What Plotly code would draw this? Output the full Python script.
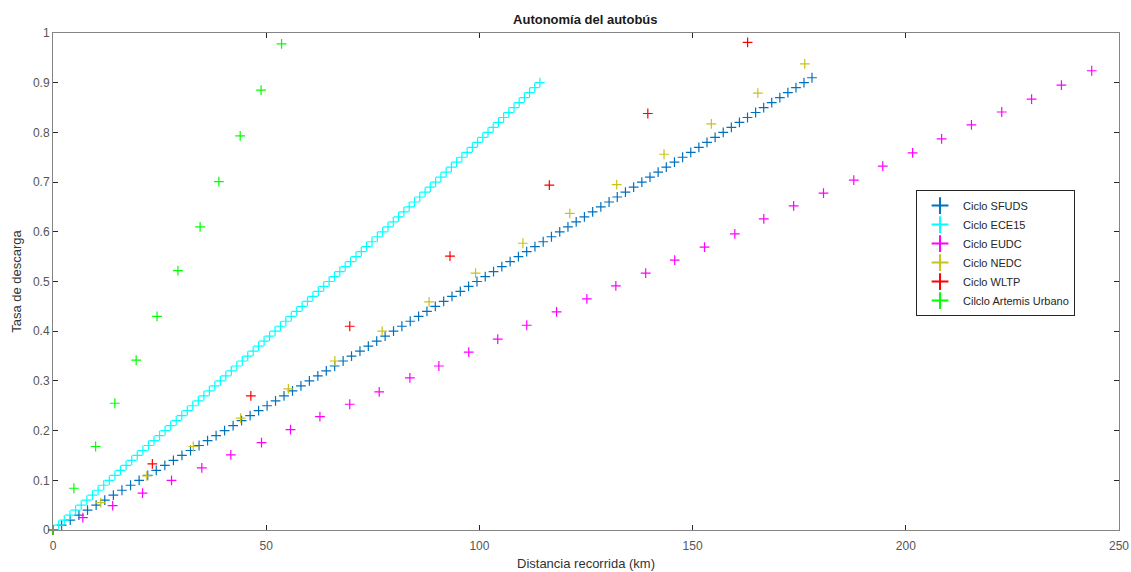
import plotly.graph_objects as go

# ---------------- data ----------------
sfuds_x = [0, 2.03, 4.05, 6.08, 8.10, 10.12, 12.14, 14.16, 16.17, 18.19,
           20.20, 22.21, 24.22, 26.23, 28.24, 30.24, 32.25, 34.25, 36.25, 38.25,
           40.24, 42.24, 44.23, 46.23, 48.22, 50.21, 52.19, 54.18, 56.17, 58.15,
           60.13, 62.11, 64.09, 66.06, 68.04, 70.01, 71.99, 73.95, 75.92, 77.89,
           79.86, 81.82, 83.78, 85.74, 87.70, 89.66, 91.62, 93.57, 95.52, 97.47,
           99.43, 101.37, 103.32, 105.26, 107.21, 109.15, 111.09, 113.03, 114.96, 116.90,
           118.84, 120.77, 122.70, 124.63, 126.56, 128.48, 130.41, 132.33, 134.25, 136.17,
           138.09, 140.01, 141.92, 143.83, 145.74, 147.66, 149.57, 151.47, 153.38, 155.28,
           157.18, 159.09, 160.98, 162.88, 164.78, 166.67, 168.56, 170.46, 172.35, 174.24,
           176.12, 178.00]
sfuds_y = [0.00, 0.01, 0.02, 0.03, 0.04, 0.05, 0.06, 0.07, 0.08, 0.09,
           0.10, 0.11, 0.12, 0.13, 0.14, 0.15, 0.16, 0.17, 0.18, 0.19,
           0.20, 0.21, 0.22, 0.23, 0.24, 0.25, 0.26, 0.27, 0.28, 0.29,
           0.30, 0.31, 0.32, 0.33, 0.34, 0.35, 0.36, 0.37, 0.38, 0.39,
           0.40, 0.41, 0.42, 0.43, 0.44, 0.45, 0.46, 0.47, 0.48, 0.49,
           0.50, 0.51, 0.52, 0.53, 0.54, 0.55, 0.56, 0.57, 0.58, 0.59,
           0.60, 0.61, 0.62, 0.63, 0.64, 0.65, 0.66, 0.67, 0.68, 0.69,
           0.70, 0.71, 0.72, 0.73, 0.74, 0.75, 0.76, 0.77, 0.78, 0.79,
           0.80, 0.81, 0.82, 0.83, 0.84, 0.85, 0.86, 0.87, 0.88, 0.89,
           0.90, 0.91]

ece15_x = [0, 1.33, 2.65, 3.98, 5.30, 6.62, 7.94, 9.26, 10.58, 11.90,
           13.21, 14.53, 15.84, 17.15, 18.46, 19.77, 21.08, 22.39, 23.69, 24.99,
           26.30, 27.60, 28.90, 30.20, 31.49, 32.79, 34.08, 35.38, 36.67, 37.96,
           39.25, 40.53, 41.82, 43.11, 44.39, 45.67, 46.95, 48.23, 49.51, 50.79,
           52.07, 53.34, 54.61, 55.89, 57.16, 58.43, 59.69, 60.96, 62.23, 63.49,
           64.75, 66.01, 67.27, 68.53, 69.79, 71.05, 72.30, 73.55, 74.81, 76.06,
           77.31, 78.56, 79.80, 81.05, 82.29, 83.54, 84.78, 86.02, 87.26, 88.49,
           89.73, 90.97, 92.20, 93.43, 94.66, 95.89, 97.12, 98.35, 99.57, 100.80,
           102.02, 103.24, 104.46, 105.68, 106.90, 108.12, 109.33, 110.55, 111.76, 112.97,
           114.18]
ece15_y = [0.00, 0.01, 0.02, 0.03, 0.04, 0.05, 0.06, 0.07, 0.08, 0.09,
           0.10, 0.11, 0.12, 0.13, 0.14, 0.15, 0.16, 0.17, 0.18, 0.19,
           0.20, 0.21, 0.22, 0.23, 0.24, 0.25, 0.26, 0.27, 0.28, 0.29,
           0.30, 0.31, 0.32, 0.33, 0.34, 0.35, 0.36, 0.37, 0.38, 0.39,
           0.40, 0.41, 0.42, 0.43, 0.44, 0.45, 0.46, 0.47, 0.48, 0.49,
           0.50, 0.51, 0.52, 0.53, 0.54, 0.55, 0.56, 0.57, 0.58, 0.59,
           0.60, 0.61, 0.62, 0.63, 0.64, 0.65, 0.66, 0.67, 0.68, 0.69,
           0.70, 0.71, 0.72, 0.73, 0.74, 0.75, 0.76, 0.77, 0.78, 0.79,
           0.80, 0.81, 0.82, 0.83, 0.84, 0.85, 0.86, 0.87, 0.88, 0.89,
           0.90]

eudc_x = [0, 7.0, 14.0, 21.0, 27.8, 34.9, 41.7, 48.9, 55.7, 62.6, 69.6, 76.5,
          83.7, 90.5, 97.5, 104.3, 111.1, 118.1, 125.2, 132.0, 139.0, 145.8,
          152.8, 159.9, 166.7, 173.7, 180.7, 187.8, 194.6, 201.6, 208.4, 215.4,
          222.5, 229.5, 236.5, 243.6]
eudc_y = [0, 0.025, 0.049, 0.074, 0.100, 0.125, 0.151, 0.176, 0.202, 0.228, 0.253, 0.278,
          0.306, 0.330, 0.358, 0.384, 0.412, 0.439, 0.465, 0.491, 0.517, 0.543,
          0.569, 0.596, 0.626, 0.652, 0.678, 0.704, 0.732, 0.759, 0.787, 0.815,
          0.841, 0.867, 0.895, 0.924]

nedc_x = [0, 11.2, 22.0, 32.9, 44.0, 55.2, 66.1, 77.2, 88.2, 99.1, 110.2,
          121.2, 132.2, 143.3, 154.4, 165.3, 176.3]
nedc_y = [0, 0.055, 0.109, 0.168, 0.225, 0.284, 0.340, 0.400, 0.459, 0.517, 0.577,
          0.637, 0.695, 0.756, 0.817, 0.879, 0.938]

wltp_x = [0, 23.3, 46.4, 69.6, 93.1, 116.4, 139.5, 162.9]
wltp_y = [0, 0.133, 0.270, 0.410, 0.551, 0.694, 0.838, 0.981]

artemis_x = [0, 4.9, 10.0, 14.5, 19.5, 24.4, 29.3, 34.5, 38.9, 43.9, 48.8, 53.6]
artemis_y = [0, 0.084, 0.168, 0.255, 0.342, 0.430, 0.522, 0.610, 0.701, 0.793, 0.885, 0.978]

series = [
    ("Ciclo SFUDS", sfuds_x, sfuds_y, "#0072BD"),
    ("Ciclo ECE15", ece15_x, ece15_y, "#00FFFF"),
    ("Ciclo EUDC", eudc_x, eudc_y, "#FF00FF"),
    ("Ciclo NEDC", nedc_x, nedc_y, "#C8C21E"),
    ("Ciclo WLTP", wltp_x, wltp_y, "#FF0000"),
    ("Cilclo Artemis Urbano", artemis_x, artemis_y, "#00FF00"),
]

x_ticks = [0, 50, 100, 150, 200, 250]
y_ticks = [0, 0.1, 0.2, 0.3, 0.4, 0.5, 0.6, 0.7, 0.8, 0.9, 1]

FONT = "Liberation Sans, Arial, sans-serif"

# ---------------- figure ----------------
fig = go.Figure()
for name, xs, ys, col in series:
    fig.add_trace(go.Scatter(
        x=xs, y=ys, mode="markers", name=name, cliponaxis=False,
        marker=dict(symbol="cross-thin", size=7, color=col,
                    line=dict(width=1.2, color=col)),
    ))

axis_common = dict(
    showline=True, linecolor="#848484", linewidth=1, mirror="ticks",
    ticks="inside", ticklen=5, tickcolor="#262626", tickwidth=1,
    showgrid=False, zeroline=False, automargin=False,
    tickfont=dict(family=FONT, size=12, color="#555555"),
)

fig.update_layout(
    width=1131, height=572,
    margin=dict(l=53, r=12, t=33, b=42, autoexpand=False),
    paper_bgcolor="white", plot_bgcolor="white",
    title=dict(text="<b>Autonomía del autobús</b>", x=0.5175, xanchor="center",
               xref="container", yref="container",
               y=1 - 19 / 572, yanchor="middle", automargin=False,
               font=dict(family=FONT, size=13, color="#1a1a1a")),
    xaxis=dict(range=[0, 250], tickvals=x_ticks, ticklabelstandoff=5,
               title=dict(text="Distancia recorrida (km)", standoff=6,
                          font=dict(family=FONT, size=13, color="#333333")),
               **axis_common),
    yaxis=dict(range=[0, 1], tickvals=y_ticks,
               title=dict(text="Tasa de descarga", standoff=8,
                          font=dict(family=FONT, size=13, color="#333333")),
               **axis_common),
    legend=dict(x=0.8096, y=0.684, xanchor="left", yanchor="top",
                bgcolor="white", bordercolor="#262626", borderwidth=1,
                font=dict(family=FONT, size=11, color="#262626"),
                tracegroupgap=0, itemwidth=36, itemsizing="constant"),
    showlegend=True,
)

fig.write_html("out.html",
               config={"displayModeBar": False},
               post_script="document.body.style.margin='0';document.body.style.padding='0';")
